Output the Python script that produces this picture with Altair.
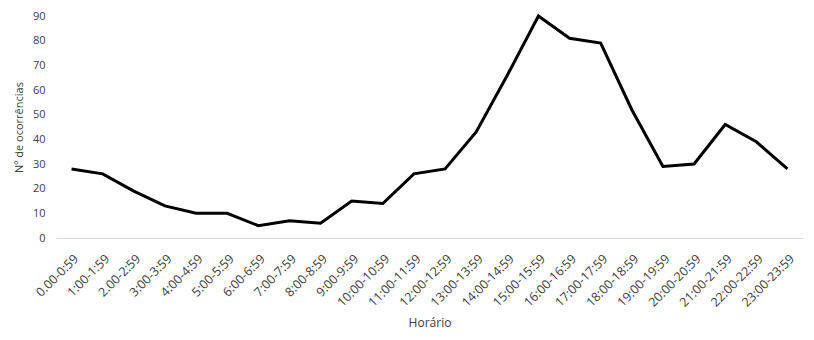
import altair as alt
import pandas as pd

horarios = ["0.00-0:59", "1:00-1:59", "2.00-2:59", "3:00-3:59", "4:00-4:59", "5:00-5:59",
            "6:00-6:59", "7:00-7:59", "8:00-8:59", "9:00-9:59", "10:00-10:59", "11:00-11:59",
            "12:00-12:59", "13:00-13:59", "14:00-14:59", "15:00-15:59", "16:00-16:59",
            "17:00-17:59", "18:00-18:59", "19:00-19:59", "20:00-20:59", "21:00-21:59",
            "22:00-22:59", "23:00-23:59"]
ocorrencias = [28, 26, 19, 13, 10, 10, 5, 7, 6, 15, 14, 26, 28, 43, 66, 90, 81, 79, 52, 29, 30, 46, 39, 28]
y_ticks = [0, 10, 20, 30, 40, 50, 60, 70, 80, 90]

df = pd.DataFrame({"Horário": horarios, "n": ocorrencias})

font = "Open Sans"
chart = alt.Chart(df).mark_line(color="black", strokeWidth=3, strokeJoin="miter").encode(
    x=alt.X("Horário:N", sort=horarios, scale=alt.Scale(type="point", padding=0.5),
            axis=alt.Axis(title="Horário", labelAngle=-45, ticks=False, domainColor="#d9d9d9",
                          domainWidth=1, labelColor="#404040", labelFont=font, labelFontSize=12.5,
                          titleFont=font, titleFontSize=12, titleFontWeight="normal",
                          titleColor="#404040", labelPadding=14, titlePadding=9)),
    y=alt.Y("n:Q", scale=alt.Scale(domain=[0, 90], nice=False),
            axis=alt.Axis(title="Nº de ocorrências", values=y_ticks, grid=False, ticks=False,
                          domain=False, labelColor="#404040", labelFont=font, labelFontSize=11,
                          labelPadding=11, titleFont=font, titleFontSize=11,
                          titleFontWeight="normal", titleColor="#404040", titlePadding=8)),
).properties(
    width=747, height=222,
    autosize=alt.AutoSizeParams(type="none"),
    padding={"left": 48, "top": 8, "right": 3, "bottom": 94},
).configure_view(stroke=None)

chart.save("out.html", embed_options={"renderer": "svg", "actions": False})
